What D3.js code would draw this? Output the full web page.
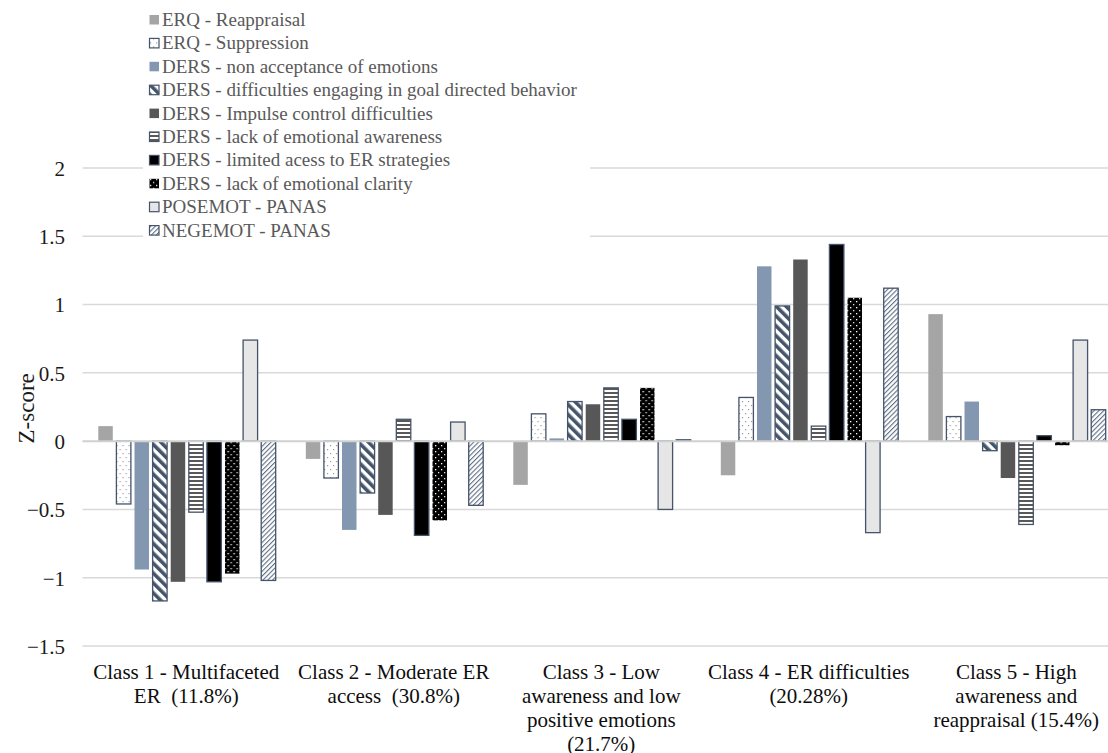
<!DOCTYPE html>
<html>
<head>
<meta charset="utf-8">
<script src="https://cdn.jsdelivr.net/npm/d3@7"></script>
<style>
  html, body { margin: 0; padding: 0; background: #fff; }
  svg { display: block; }
  svg text { font-family: "Liberation Serif", "Times New Roman", serif; white-space: pre; }
</style>
</head>
<body>
<svg id="chart" width="1108" height="753"></svg>
<script>
// Latent profile classes (x categories), each label split into lines
const classes = ["c1", "c2", "c3", "c4", "c5"];
const classLabels = [
  ["Class 1 - Multifaceted", "ER  (11.8%)"],
  ["Class 2 - Moderate ER", "access  (30.8%)"],
  ["Class 3 - Low", "awareness and low", "positive emotions", "(21.7%)"],
  ["Class 4 - ER difficulties", "(20.28%)"],
  ["Class 5 - High", "awareness and", "reappraisal (15.4%)"]
];

// Measures (series), in legend order
const series = [
  "ERQ - Reappraisal",
  "ERQ - Suppression",
  "DERS - non acceptance of emotions",
  "DERS - difficulties engaging in goal directed behavior",
  "DERS - Impulse control difficulties",
  "DERS - lack of emotional awareness",
  "DERS - limited acess to ER strategies",
  "DERS - lack of emotional clarity",
  "POSEMOT - PANAS",
  "NEGEMOT - PANAS"
];

// Z-scores per class, one array per measure
const reappraisal   = [ 0.11, -0.13, -0.32, -0.25,  0.93];
const suppression   = [-0.46, -0.27,  0.20,  0.32,  0.18];
const nonAcceptance = [-0.94, -0.65,  0.02,  1.28,  0.29];
const goalDirected  = [-1.17, -0.38,  0.29,  0.99, -0.07];
const impulse       = [-1.03, -0.54,  0.27,  1.33, -0.27];
const awareness     = [-0.52,  0.16,  0.39,  0.11, -0.61];
const strategies    = [-1.03, -0.69,  0.16,  1.44,  0.04];
const clarity       = [-0.97, -0.58,  0.39,  1.05, -0.03];
const posEmot       = [ 0.74,  0.14, -0.50, -0.67,  0.74];
const negEmot       = [-1.02, -0.47,  0.01,  1.12,  0.23];
const values = [reappraisal, suppression, nonAcceptance, goalDirected, impulse,
                awareness, strategies, clarity, posEmot, negEmot];

// Y axis ticks
const yTicks = [-1.5, -1, -0.5, 0, 0.5, 1, 1.5, 2];

const svg = d3.select("#chart");
const W = 1108;
const SERIF = "'Liberation Serif', 'Times New Roman', serif";

const y = d3.scaleLinear().domain([-1.5, 2]).range([646, 168]);
const x0 = d3.scaleBand().domain(classes).range([82.5, 1120]);
const x1 = d3.scaleBand().domain(series).range([14, 195]).paddingInner(0.2).paddingOuter(0.1);

// ---- fill patterns ----
const defs = svg.append("defs");
const EDGE = "#44546a";

function pattern(id, w, h, transform) {
  const p = defs.append("pattern").attr("id", id)
    .attr("patternUnits", "userSpaceOnUse").attr("width", w).attr("height", h);
  if (transform) p.attr("patternTransform", transform);
  return p;
}
// sparse grey dots on white
let p = pattern("dotsLight", 6, 8);
p.append("rect").attr("width", 6).attr("height", 8).attr("fill", "#fff");
p.append("rect").attr("x", 1).attr("y", 1).attr("width", 1.2).attr("height", 1.2).attr("fill", "#9a9a9a");
p.append("rect").attr("x", 4).attr("y", 5).attr("width", 1.2).attr("height", 1.2).attr("fill", "#9a9a9a");
// wide downward diagonal
p = pattern("diagWide", 7, 7, "rotate(-45)");
p.append("rect").attr("width", 7).attr("height", 7).attr("fill", "#fff");
p.append("rect").attr("width", 3.6).attr("height", 7).attr("fill", EDGE);
// horizontal stripes
p = pattern("hStripes", 4, 4);
p.append("rect").attr("width", 4).attr("height", 4).attr("fill", "#fff");
p.append("rect").attr("width", 4).attr("height", 2).attr("fill", "#595959");
// white dots on black
p = pattern("dotsDark", 6, 6);
p.append("rect").attr("width", 6).attr("height", 6).attr("fill", "#000");
p.append("rect").attr("x", 1).attr("y", 1).attr("width", 1.3).attr("height", 1.3).attr("fill", "#fff");
p.append("rect").attr("x", 4).attr("y", 4).attr("width", 1.3).attr("height", 1.3).attr("fill", "#ddd");
// thin upward diagonal
p = pattern("diagThin", 3.4, 3.4, "rotate(45)");
p.append("rect").attr("width", 3.4).attr("height", 3.4).attr("fill", "#fff");
p.append("rect").attr("width", 1.1).attr("height", 3.4).attr("fill", "#5f6e85");

const styles = [
  { fill: "#a5a5a5", stroke: "none" },
  { fill: "url(#dotsLight)", stroke: EDGE },
  { fill: "#8497b0", stroke: "none" },
  { fill: "url(#diagWide)", stroke: EDGE },
  { fill: "#575757", stroke: "none" },
  { fill: "url(#hStripes)", stroke: EDGE },
  { fill: "#000", stroke: EDGE },
  { fill: "url(#dotsDark)", stroke: "none" },
  { fill: "#e7e6e6", stroke: EDGE },
  { fill: "url(#diagThin)", stroke: EDGE }
];

// ---- gridlines ----
svg.append("g").selectAll("line")
  .data(yTicks.filter(t => t !== 0))
  .join("line")
  .attr("x1", 82.5).attr("x2", W)
  .attr("y1", d => y(d)).attr("y2", d => y(d))
  .attr("stroke", "#d9d9d9").attr("stroke-width", 1.5);

// ---- y tick labels ----
const yAxis = d3.axisLeft(y).tickValues(yTicks).tickSize(0).tickPadding(0)
  .tickFormat(d => d3.format("")(d).replace("-", "\u2212"));
const gy = svg.append("g").attr("transform", "translate(65,0)").call(yAxis)
  .attr("font-family", SERIF).attr("font-size", 21);
gy.select(".domain").remove();
gy.selectAll("text")
  .attr("fill", "#1a1a1a").attr("dy", "0.35em");

// y title
svg.append("text")
  .attr("transform", `translate(34,${y(0.24)}) rotate(-90)`)
  .attr("text-anchor", "middle")
  .attr("font-family", SERIF)
  .attr("font-size", 23).attr("fill", "#1a1a1a")
  .text("Z-score");

// ---- bars ----
const groups = svg.append("g").selectAll("g")
  .data(classes)
  .join("g")
  .attr("transform", d => `translate(${x0(d)},0)`);

groups.selectAll("rect")
  .data((c, ci) => series.map((s, si) => ({ s, si, v: values[si][ci] })))
  .join("rect")
  .attr("x", d => x1(d.s))
  .attr("width", x1.bandwidth())
  .attr("y", d => y(Math.max(0, d.v)))
  .attr("height", d => Math.abs(y(d.v) - y(0)))
  .attr("fill", d => styles[d.si].fill)
  .attr("stroke", d => styles[d.si].stroke)
  .attr("stroke-width", 1.3);

// zero line drawn over the bars
svg.append("line")
  .attr("x1", 82.5).attr("x2", W)
  .attr("y1", y(0)).attr("y2", y(0))
  .attr("stroke", "#d0d0d0").attr("stroke-width", 2);

// ---- category labels ----
const xl = svg.append("g").selectAll("text")
  .data(classes)
  .join("text")
  .attr("text-anchor", "middle")
  .attr("font-family", SERIF)
  .attr("font-size", 21).attr("fill", "#0d0d0d")
  .attr("x", d => x0(d) + x0.bandwidth() / 2)
  .attr("y", 679);
xl.selectAll("tspan")
  .data((d, i) => classLabels[i])
  .join("tspan")
  .attr("x", function () { return this.parentNode.getAttribute("x"); })
  .attr("dy", (d, i) => i === 0 ? 0 : 24)
  .text(d => d);

// ---- legend ----
const legend = svg.append("g");
legend.append("rect")
  .attr("x", 143).attr("y", 0).attr("width", 447).attr("height", 244)
  .attr("fill", "#fff");
const li = legend.selectAll("g.item")
  .data(series)
  .join("g").attr("class", "item")
  .attr("transform", (d, i) => `translate(149,${26 + i * 23.4})`);
li.append("rect")
  .attr("x", 0.5).attr("y", -11).attr("width", 9.5).attr("height", 9.5)
  .attr("fill", (d, i) => styles[i].fill)
  .attr("stroke", (d, i) => styles[i].stroke)
  .attr("stroke-width", 1.2);
li.append("text")
  .attr("x", 13).attr("y", 0)
  .attr("font-family", SERIF)
  .attr("font-size", 19).attr("fill", "#595959")
  .text(d => d);
</script>
</body>
</html>
